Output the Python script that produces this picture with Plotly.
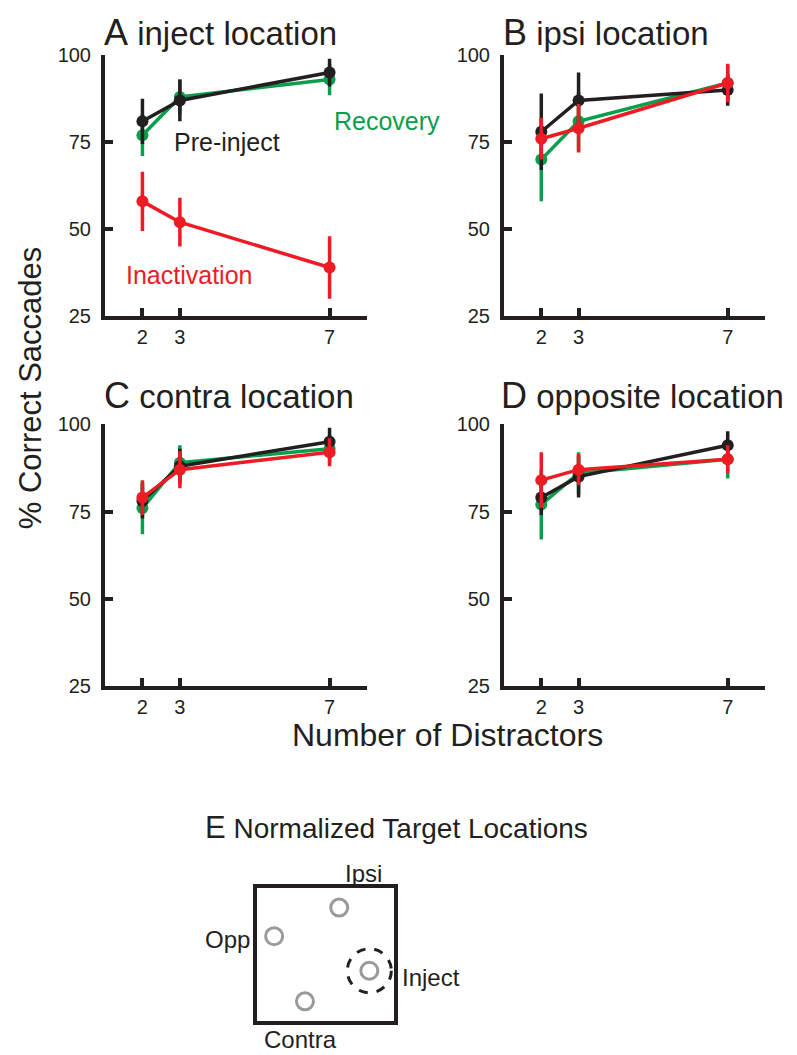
import plotly.graph_objects as go

W, H = 797, 1055
OFF = 8                  # page body margin offset compensation (pixels)
VY0, VYS = 12.0, 0.979   # empirical vertical calibration of the photographed page

# ---------------- data ----------------
distractors = [2, 3, 7]
series_names = ["Recovery", "Pre-inject", "Inactivation"]
series_colors = {"Recovery": "#0a9e4c", "Pre-inject": "#231f20", "Inactivation": "#ec1c24"}

# panel A: inject location
A_pre = [81, 87, 95]
A_pre_err = [6.5, 6, 4]
A_rec = [77, 88, 93]
A_rec_err = [6, 5, 4.5]
A_ina = [58, 52, 39]
A_ina_err = [8.5, 7, 9]

# panel B: ipsi location
B_pre = [78, 87, 90]
B_pre_err = [11, 8, 4.5]
B_rec = [70, 81, 92]
B_rec_err = [12, 8.5, 5]
B_ina = [76, 79, 92]
B_ina_err = [6, 7, 5.5]

# panel C: contra location
C_pre = [78, 88, 95]
C_pre_err = [5, 5, 4]
C_rec = [76, 89, 93]
C_rec_err = [7.5, 5, 4]
C_ina = [79, 87, 92]
C_ina_err = [5, 5.3, 4]

# panel D: opposite location
D_pre = [79, 85, 94]
D_pre_err = [5, 6, 4]
D_rec = [77, 86, 90]
D_rec_err = [10, 6, 5.5]
D_ina = [84, 87, 90]
D_ina_err = [8, 4.5, 4]

panel_letters = ["A", "B", "C", "D"]
panel_titles = ["inject location", "ipsi location", "contra location", "opposite location"]
y_ticks = [25, 50, 75, 100]

# panel E: normalized target locations
target_names = ["Ipsi", "Opp", "Inject", "Contra"]
target_x = [0.60, 0.125, 0.82, 0.35]
target_y = [0.855, 0.64, 0.38, 0.15]

panels = {
    "A": {"Recovery": (A_rec, A_rec_err), "Pre-inject": (A_pre, A_pre_err), "Inactivation": (A_ina, A_ina_err)},
    "B": {"Recovery": (B_rec, B_rec_err), "Pre-inject": (B_pre, B_pre_err), "Inactivation": (B_ina, B_ina_err)},
    "C": {"Recovery": (C_rec, C_rec_err), "Pre-inject": (C_pre, C_pre_err), "Inactivation": (C_ina, C_ina_err)},
    "D": {"Recovery": (D_rec, D_rec_err), "Pre-inject": (D_pre, D_pre_err), "Inactivation": (D_ina, D_ina_err)},
}

# ---------------- layout geometry (picture pixels -> paper) ----------------
def px_x(p):
    return (p - OFF) / W

def px_y(p):
    return 1 - ((p - VY0) / VYS - OFF) / H

x_doms = {"A": (105, 367), "B": (504, 765), "C": (105, 367), "D": (504, 765)}
y_doms = {"A": (56, 317), "B": (56, 317), "C": (425, 687), "D": (425, 687)}
title_left = {"A": 102, "B": 501, "C": 102, "D": 499}
title_bottom = {"A": 56, "B": 56, "C": 419, "D": 419}

FONT = "Liberation Sans, Arial, Helvetica, sans-serif"
BLACK = "#231f20"

fig = go.Figure()
layout = dict(
    width=W, height=H,
    margin=dict(l=0, r=0, t=0, b=0),
    paper_bgcolor="white", plot_bgcolor="white",
    showlegend=False,
    font=dict(family=FONT, color=BLACK),
)

annotations = []
for i, L in enumerate(panel_letters):
    n = i + 1
    xa = "x" if n == 1 else f"x{n}"
    ya = "y" if n == 1 else f"y{n}"
    xd = x_doms[L]
    yd = y_doms[L]
    layout["xaxis" if n == 1 else f"xaxis{n}"] = dict(
        domain=[px_x(xd[0]), px_x(xd[1])], anchor=ya, range=[1, 8],
        tickvals=distractors, ticktext=[str(v) for v in distractors],
        showline=True, linewidth=4, linecolor=BLACK,
        ticks="inside", ticklen=8, tickwidth=3.5, tickcolor=BLACK,
        showgrid=False, zeroline=False, ticklabelstandoff=0,
        tickfont=dict(size=20, family=FONT, color=BLACK),
    )
    layout["yaxis" if n == 1 else f"yaxis{n}"] = dict(
        domain=[px_y(yd[1]), px_y(yd[0])], anchor=xa, range=[25, 100],
        tickvals=y_ticks,
        showline=True, linewidth=4, linecolor=BLACK,
        ticks="inside", ticklen=8, tickwidth=3.5, tickcolor=BLACK,
        showgrid=False, zeroline=False, ticklabelstandoff=6,
        tickfont=dict(size=20, family=FONT, color=BLACK),
    )
    for s in series_names:
        vals, errs = panels[L][s]
        fig.add_trace(go.Scatter(
            x=distractors, y=vals, mode="lines+markers", name=s,
            xaxis=xa, yaxis=ya,
            line=dict(color=series_colors[s], width=3.5),
            marker=dict(color=series_colors[s], size=12),
            error_y=dict(type="data", array=errs, symmetric=True,
                         color=series_colors[s], thickness=3.5, width=0),
            cliponaxis=False,
        ))
    # panel title
    annotations.append(dict(
        xref="paper", yref="paper", x=px_x(title_left[L]), y=px_y(title_bottom[L]),
        xanchor="left", yanchor="bottom", showarrow=False,
        text=f"<span style='font-size:36px'>{L}</span> {panel_titles[i]}",
        font=dict(size=33, family=FONT, color=BLACK),
    ))

# series labels in panel A
annotations += [
    dict(xref="paper", yref="paper", x=px_x(227), y=px_y(143), text="Pre-inject", showarrow=False,
         font=dict(size=25, family=FONT, color=series_colors["Pre-inject"]), xanchor="center", yanchor="middle"),
    dict(xref="paper", yref="paper", x=px_x(387), y=px_y(122), text="Recovery", showarrow=False,
         font=dict(size=25, family=FONT, color=series_colors["Recovery"]), xanchor="center", yanchor="middle"),
    dict(xref="paper", yref="paper", x=px_x(189), y=px_y(276), text="Inactivation", showarrow=False,
         font=dict(size=25, family=FONT, color=series_colors["Inactivation"]), xanchor="center", yanchor="middle"),
]

# shared axis titles
annotations += [
    dict(xref="paper", yref="paper", x=px_x(30), y=px_y(389), text="% Correct Saccades",
         textangle=-90, showarrow=False, font=dict(size=31, family=FONT, color=BLACK),
         xanchor="center", yanchor="middle"),
    dict(xref="paper", yref="paper", x=px_x(447), y=px_y(736), text="Number of Distractors",
         showarrow=False, font=dict(size=32, family=FONT, color=BLACK),
         xanchor="center", yanchor="middle"),
]

# ---------------- panel E ----------------
ex0, ex1, ey0, ey1 = 257, 394, 889, 1022
layout["xaxis5"] = dict(domain=[px_x(ex0), px_x(ex1)], anchor="y5", range=[0, 1],
                        showline=True, mirror=True, linewidth=3.5, linecolor=BLACK,
                        showticklabels=False, ticks="", showgrid=False, zeroline=False)
layout["yaxis5"] = dict(domain=[px_y(ey1), px_y(ey0)], anchor="x5", range=[0, 1],
                        showline=True, mirror=True, linewidth=3.5, linecolor=BLACK,
                        showticklabels=False, ticks="", showgrid=False, zeroline=False)
fig.add_trace(go.Scatter(
    x=target_x, y=target_y, mode="markers", xaxis="x5", yaxis="y5",
    marker=dict(symbol="circle-open", size=17, color="#9a9a9a", line=dict(width=3, color="#9a9a9a")),
    cliponaxis=False, hoverinfo="text", text=target_names,
))
inj = target_names.index("Inject")
shapes = [dict(type="circle", xref="x5", yref="y5",
               xsizemode="pixel", ysizemode="pixel",
               xanchor=target_x[inj], yanchor=target_y[inj],
               x0=-22, x1=22, y0=-22, y1=22,
               line=dict(color=BLACK, width=3, dash="dash"))]

annotations += [
    dict(xref="paper", yref="paper", x=px_x(203), y=px_y(848), xanchor="left", yanchor="bottom",
         showarrow=False, text="<span style='font-size:31px'>E</span> Normalized Target Locations",
         font=dict(size=28, family=FONT, color=BLACK)),
    dict(xref="paper", yref="paper", x=px_x(363), y=px_y(874), text="Ipsi", showarrow=False,
         font=dict(size=24, family=FONT, color=BLACK), xanchor="center", yanchor="middle"),
    dict(xref="paper", yref="paper", x=px_x(252), y=px_y(940), text="Opp", showarrow=False,
         font=dict(size=24, family=FONT, color=BLACK), xanchor="right", yanchor="middle"),
    dict(xref="paper", yref="paper", x=px_x(400), y=px_y(978), text="Inject", showarrow=False,
         font=dict(size=24, family=FONT, color=BLACK), xanchor="left", yanchor="middle"),
    dict(xref="paper", yref="paper", x=px_x(300), y=px_y(1040), text="Contra", showarrow=False,
         font=dict(size=24, family=FONT, color=BLACK), xanchor="center", yanchor="middle"),
]

layout["annotations"] = annotations
layout["shapes"] = shapes
fig.update_layout(**layout)
fig.write_html("out.html")
